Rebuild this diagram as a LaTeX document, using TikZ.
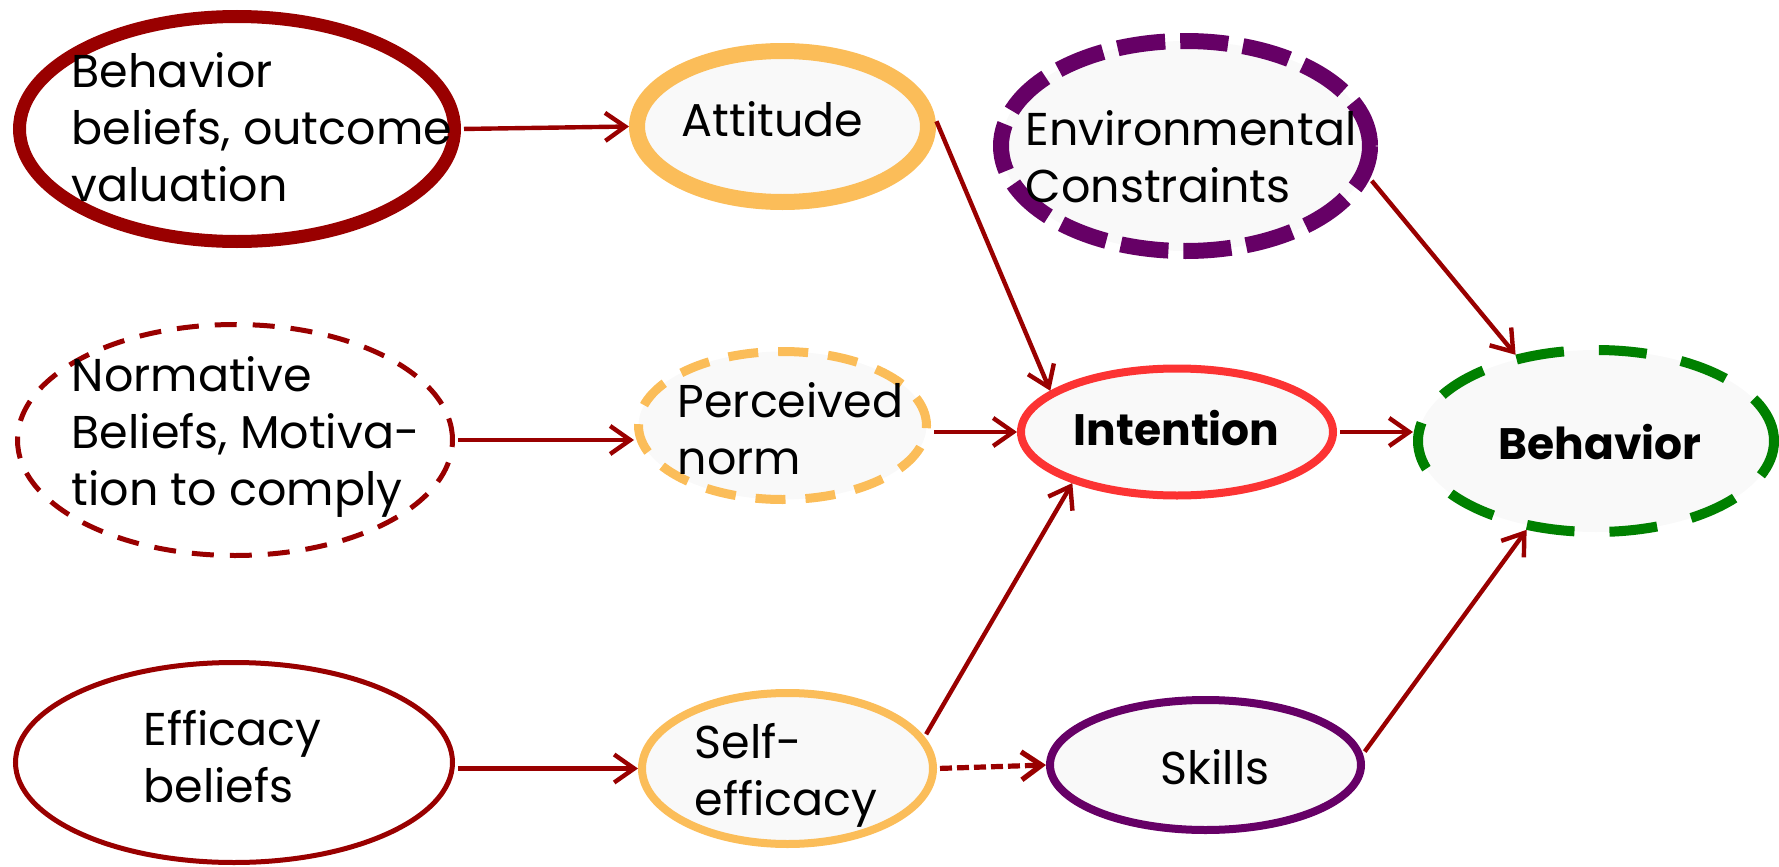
\documentclass[tikz,border=0pt]{standalone}
\usepackage{fontspec}
\setmainfont{Poppins}
\usetikzlibrary{shapes.geometric,arrows.meta}

\definecolor{darkred}{RGB}{153,0,0}
\definecolor{peach}{RGB}{251,189,89}
\definecolor{brightred}{RGB}{252,51,51}
\definecolor{plum}{RGB}{102,0,102}
\definecolor{leaf}{RGB}{0,128,0}
\definecolor{paper}{RGB}{249,249,249}

\tikzset{every picture/.style={line width=0.75pt}}
\tikzset{
  oval/.style={ellipse, inner sep=0pt, fill=paper},
  lbl/.style={anchor=west, inner sep=0pt, align=left, font=\fontsize{23}{28.5}\selectfont},
  lblb/.style={lbl, font=\fontsize{22}{28.5}\selectfont\bfseries},
  link/.style={draw=darkred, line width=2.2pt, shorten <=1.5pt, -{Straight Barb[length=10pt,width=14pt]}},
}

\begin{document}
\begin{tikzpicture}[x=0.5pt,y=0.5pt,yscale=-1,xscale=1]
\useasboundingbox (0,0) rectangle (1779,867);

%Shape: Ellipse [behavior beliefs]
\node [oval, fill=white, draw=darkred, line width=6.5pt, minimum width=217.5pt, minimum height=112.5pt] (bb) at (237,129) {};
%Shape: Ellipse [normative beliefs]
\node [oval, fill=white, draw=darkred, line width=2.5pt, dash pattern=on 11pt off 8pt, minimum width=217.5pt, minimum height=115.5pt] (nb) at (235,440) {};
%Shape: Ellipse [efficacy beliefs]
\node [oval, fill=white, draw=darkred, line width=2.5pt, minimum width=218.5pt, minimum height=100pt] (eb) at (234,762.5) {};
%Shape: Ellipse [attitude]
\node [oval, draw=peach, line width=8pt, minimum width=145.5pt, minimum height=75.5pt] (att) at (782.5,126.5) {};
%Shape: Ellipse [perceived norm]
\node [oval, draw=peach, line width=4.5pt, dash pattern=on 15pt off 10pt, minimum width=144pt, minimum height=74pt] (pn) at (782.5,425.5) {};
%Shape: Ellipse [self-efficacy]
\node [oval, draw=peach, line width=4pt, minimum width=145.5pt, minimum height=75.5pt] (se) at (787.5,768.5) {};
%Shape: Ellipse [environmental constraints]
\node [oval, draw=plum, line width=8pt, dash pattern=on 24pt off 7.5pt, minimum width=184.5pt, minimum height=105pt] (ec) at (1185.5,146) {};
%Shape: Ellipse [intention]
\node [oval, draw=brightred, line width=4pt, minimum width=156pt, minimum height=63.5pt] (int) at (1177,432) {};
%Shape: Ellipse [skills]
\node [oval, draw=plum, line width=4pt, minimum width=155.5pt, minimum height=65pt] (sk) at (1205.5,765) {};
%Shape: Ellipse [behavior]
\node [oval, draw=leaf, line width=5pt, dash pattern=on 24pt off 17.5pt, minimum width=178pt, minimum height=91pt] (beh) at (1596,441) {};

%Straight Lines
\draw [link] (bb.east) -- (att.west);
\draw [link] (nb.east) -- (nb.east -| pn.west);
\draw [link] (eb.east |- se.west) -- (se.west);
\draw [link] (att.3) -- (int.162);
\draw [link] (pn.east |- int.west) -- (int.west);
\draw [link] (se.13) -- (int.206);
\draw [link, line width=2.6pt, dash pattern=on 6pt off 2.5pt] (se.east) -- (sk.west);
\draw [link] (ec.-10) -- (beh.133);
\draw [link] (int.east) -- (int.east -| beh.west);
\draw [link] (sk.4) -- (beh.232);

% Text Node
\node [lbl] (bbtext) at (71,127) {Behavior\\beliefs, outcome\\valuation};
% Text Node
\node [lbl] (nbtext) at (71,437) {Normative\\Beliefs, Motiva-\\tion to comply};
% Text Node
\node [lbl] (ebtext) at (143,757) {Efficacy\\beliefs};
% Text Node
\node [lbl] (atttext) at (681,119.5) {Attitude};
% Text Node
\node [lbl] (pntext) at (677,429) {Perceived\\norm};
% Text Node
\node [lbl] (setext) at (694,775) {Self-\\efficacy};
% Text Node
\node [lbl] (ectext) at (1025,157) {Environmental\\Constraints};
% Text Node
\node [lblb] (inttext) at (1073,428.5) {Intention};
% Text Node
\node [lbl] (sktext) at (1160,767.5) {Skills};
% Text Node
\node [lblb] (behtext) at (1498,442) {Behavior};

\end{tikzpicture}
\end{document}
